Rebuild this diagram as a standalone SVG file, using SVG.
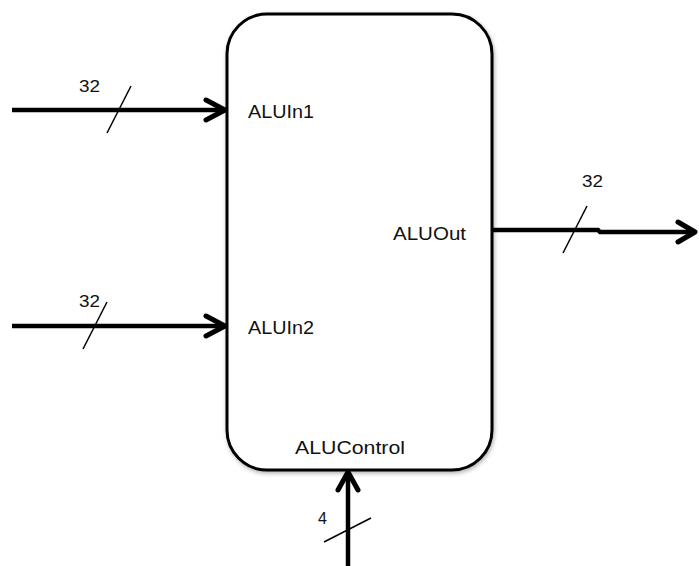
<svg xmlns="http://www.w3.org/2000/svg" width="699" height="566" viewBox="0 0 699 566">
<defs>
<style>
.lbl{font-family:"Liberation Sans",Arial,sans-serif;font-size:17.5px;fill:#111}
.num{font-family:"Liberation Sans",Arial,sans-serif;font-size:16px;fill:#111}
.wire{stroke:#000;stroke-width:4.5;fill:none}
.head{stroke:#000;stroke-width:5;fill:none;stroke-linecap:round;stroke-linejoin:round}
.slash{stroke:#000;stroke-width:1.5;fill:none}
</style>
<filter id="sh" x="-10%" y="-10%" width="120%" height="120%">
<feGaussianBlur in="SourceAlpha" stdDeviation="2"/>
<feOffset dx="1" dy="2"/>
<feComponentTransfer><feFuncA type="linear" slope="0.3"/></feComponentTransfer>
<feMerge><feMergeNode/><feMergeNode in="SourceGraphic"/></feMerge>
</filter>
</defs>
<rect width="699" height="566" fill="#fff"/>
<g id="alu">
<rect x="227" y="14" width="265" height="456" rx="40" ry="40" fill="#fff" stroke="#000" stroke-width="3" filter="url(#sh)"/>
<text class="lbl" x="248" y="118" textLength="66" lengthAdjust="spacingAndGlyphs">ALUIn1</text>
<text class="lbl" x="248" y="334" textLength="66" lengthAdjust="spacingAndGlyphs">ALUIn2</text>
<text class="lbl" x="393" y="240" textLength="73" lengthAdjust="spacingAndGlyphs">ALUOut</text>
<text class="lbl" x="295" y="454" textLength="110" lengthAdjust="spacingAndGlyphs">ALUControl</text>
</g>
<g id="connectors">
<path class="wire" d="M12 110 H224"/>
<path class="head" d="M206 100 L225 110 L206 120"/>
<path class="slash" d="M107 133 L131 86"/>
<text class="num" x="79" y="92" textLength="21" lengthAdjust="spacingAndGlyphs">32</text>
<path class="wire" d="M12 326 H224"/>
<path class="head" d="M206 316 L225 326 L206 336"/>
<path class="slash" d="M83 349 L107 302"/>
<text class="num" x="79" y="307" textLength="21" lengthAdjust="spacingAndGlyphs">32</text>
<path class="wire" d="M492 230 H598 L600 232 H694"/>
<path class="head" d="M678 222 L695 232 L678 242"/>
<path class="slash" d="M563 253 L587 206"/>
<text class="num" x="582" y="187" textLength="21" lengthAdjust="spacingAndGlyphs">32</text>
<path class="wire" d="M348 566 V473"/>
<path class="head" d="M338 490 L348 472 L358 490"/>
<path class="slash" d="M324 542 L371 518"/>
<text class="num" x="318" y="524">4</text>
</g>
</svg>
